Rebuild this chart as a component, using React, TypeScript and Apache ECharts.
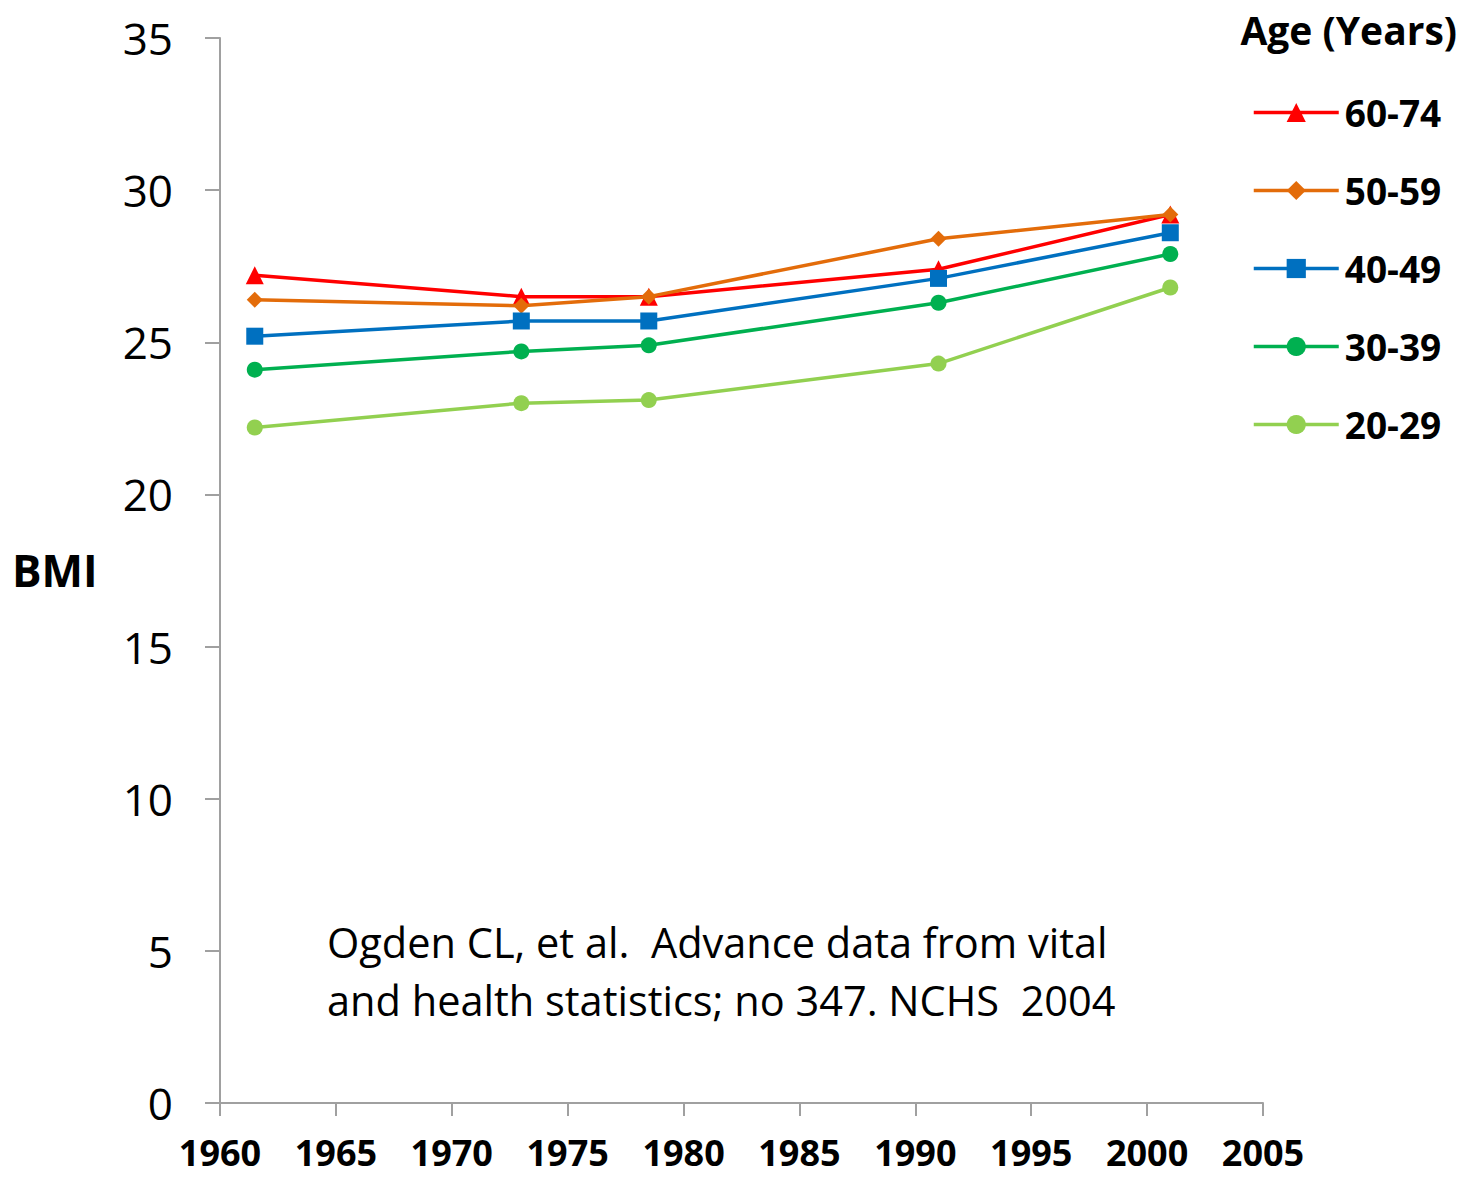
import React, { useEffect, useRef } from "react";
import * as echarts from "echarts";

const years = [1961.5, 1973, 1978.5, 1991, 2001];
const seriesNames = ["60-74", "50-59", "40-49", "30-39", "20-29"];
const age60_74 = [27.2, 26.5, 26.5, 27.4, 29.2];
const age50_59 = [26.4, 26.2, 26.5, 28.4, 29.2];
const age40_49 = [25.2, 25.7, 25.7, 27.1, 28.6];
const age30_39 = [24.1, 24.7, 24.9, 26.3, 27.9];
const age20_29 = [22.2, 23.0, 23.1, 24.3, 26.8];
const colors = ["#FF0000", "#E36C0A", "#0070C0", "#00B050", "#92D050"];
const symbols = ["triangle", "diamond", "rect", "circle", "circle"];
const symbolSizes = [18, 16, 17, 16, 16];

const FONT = "'Open Sans', Lato, sans-serif";

export default function App() {
  const ref = useRef<HTMLDivElement>(null);
  useEffect(() => {
    if (!ref.current) return;
    const chart = echarts.init(ref.current, undefined, { renderer: "svg" });
    const values = [age60_74, age50_59, age40_49, age30_39, age20_29];
    const series = seriesNames.map((name, i) => ({
      name,
      type: "line",
      data: years.map((y, j) => [y, values[i][j]]),
      symbol: symbols[i],
      symbolSize: symbolSizes[i],
      showAllSymbol: true,
      lineStyle: { color: colors[i], width: 3.5 },
      itemStyle: { color: colors[i] },
      z: 2 + i,
    }));
    chart.setOption({
      animation: false,
      backgroundColor: "#ffffff",
      textStyle: { fontFamily: FONT },
      grid: { left: 220, right: 198, top: 38, bottom: 76, containLabel: false },
      xAxis: {
        type: "value",
        min: 1960,
        max: 2005,
        interval: 5,
        splitLine: { show: false },
        axisLine: { show: true, lineStyle: { color: "#A0A0A0", width: 2 } },
        axisTick: { show: true, inside: false, length: 13, lineStyle: { color: "#A0A0A0", width: 2 } },
        axisLabel: {
          color: "#000",
          fontSize: 36,
          fontWeight: "bold",
          fontFamily: FONT,
          margin: 31,
          formatter: (v: number) => String(v),
        },
      },
      yAxis: {
        type: "value",
        min: 0,
        max: 35,
        interval: 5,
        splitLine: { show: false },
        axisLine: { show: true, lineStyle: { color: "#A0A0A0", width: 2 } },
        axisTick: { show: true, inside: false, length: 15, lineStyle: { color: "#A0A0A0", width: 2 } },
        axisLabel: { color: "#000", fontSize: 44, fontFamily: FONT, margin: 47 },
      },
      legend: {
        orient: "vertical",
        left: 1247,
        top: 89,
        itemWidth: 85,
        itemHeight: 24,
        itemGap: 41,
        data: seriesNames,
        lineStyle: { width: 3.5 },
        textStyle: { color: "#000", fontSize: 37, fontWeight: "bold", fontFamily: FONT, padding: [0, 0, 0, 1] },
      },
      graphic: [
        {
          type: "text",
          right: 4,
          top: 10,
          style: { text: "Age (Years)", fill: "#000", font: `bold 39px ${FONT}` },
        },
        {
          type: "text",
          left: 12,
          top: 548,
          style: { text: "BMI", fill: "#000", font: `bold 44px ${FONT}` },
        },
        {
          type: "text",
          left: 327,
          top: 913,
          style: {
            text: "Ogden CL, et al.  Advance data from vital\nand health statistics; no 347. NCHS  2004",
            fill: "#000",
            font: `41.5px ${FONT}`,
            lineHeight: 58,
          },
        },
      ],
      series,
    });
    return () => chart.dispose();
  }, []);
  return <div ref={ref} style={{ position: "fixed", left: 0, top: 0, width: 1461, height: 1179 }} />;
}
